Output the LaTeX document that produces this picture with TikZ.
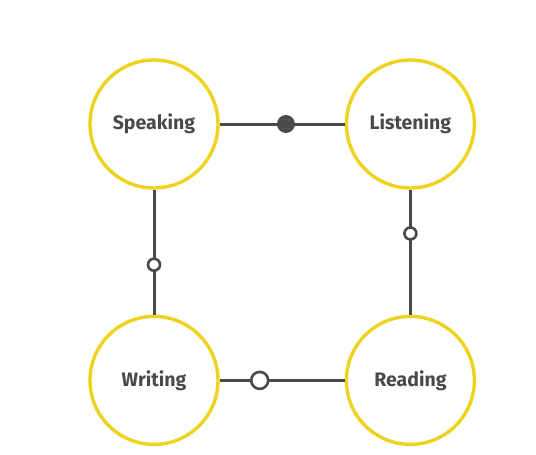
\documentclass[tikz,border=0pt]{standalone}
\usepackage{fontspec}
\setmainfont{Fira Sans}
\usepackage{tikz}
\usetikzlibrary{positioning}

\definecolor{ringyellow}{HTML}{EED21E}
\definecolor{linegray}{HTML}{4A4A4A}

\begin{document}
\begin{tikzpicture}[
			x=1pt, y=1pt,
			node distance=125pt,
			skill/.style={
				circle,
				draw=ringyellow,
				fill=white,
				line width=3.4pt,
				minimum size=128pt,
				font=\fontsize{19.5}{22}\selectfont\bfseries,
				text=linegray
			},
			link/.style={
				draw=linegray,
				line width=3pt
			},
			fulldot/.style={
				circle,
				fill=linegray,
				inner sep=0pt,
				minimum size=18pt
			},
			opendot/.style={
				circle,
				draw=linegray,
				fill=white,
				line width=2.6pt,
				inner sep=0pt,
				minimum size=#1
			}
			]
			
			\useasboundingbox (0,0) rectangle (536,-455);
			
			% Skill 1: Speaking
			\node[skill] (speak) at (154,-124) {Speaking};
			
			% Skill 2: Listening
			\node[skill, right=of speak] (listen) {Listening};
			
			% Skill 3: Writing
			\node[skill, below=of speak] (write) {Writing};
			
			% Skill 4: Reading
			\node[skill, right=of write] (read) {Reading};
			
			% Links between the skills
			\draw[link] (speak) -- node[pos=0.53, fulldot] {} (listen);
			\draw[link] (speak) -- node[pos=0.6, opendot=12pt] {} (write);
			\draw[link] (listen) -- node[pos=0.35, opendot=12pt] {} (read);
			\draw[link] (write) -- node[pos=0.32, opendot=17pt] {} (read);
			
		\end{tikzpicture}
\end{document}
